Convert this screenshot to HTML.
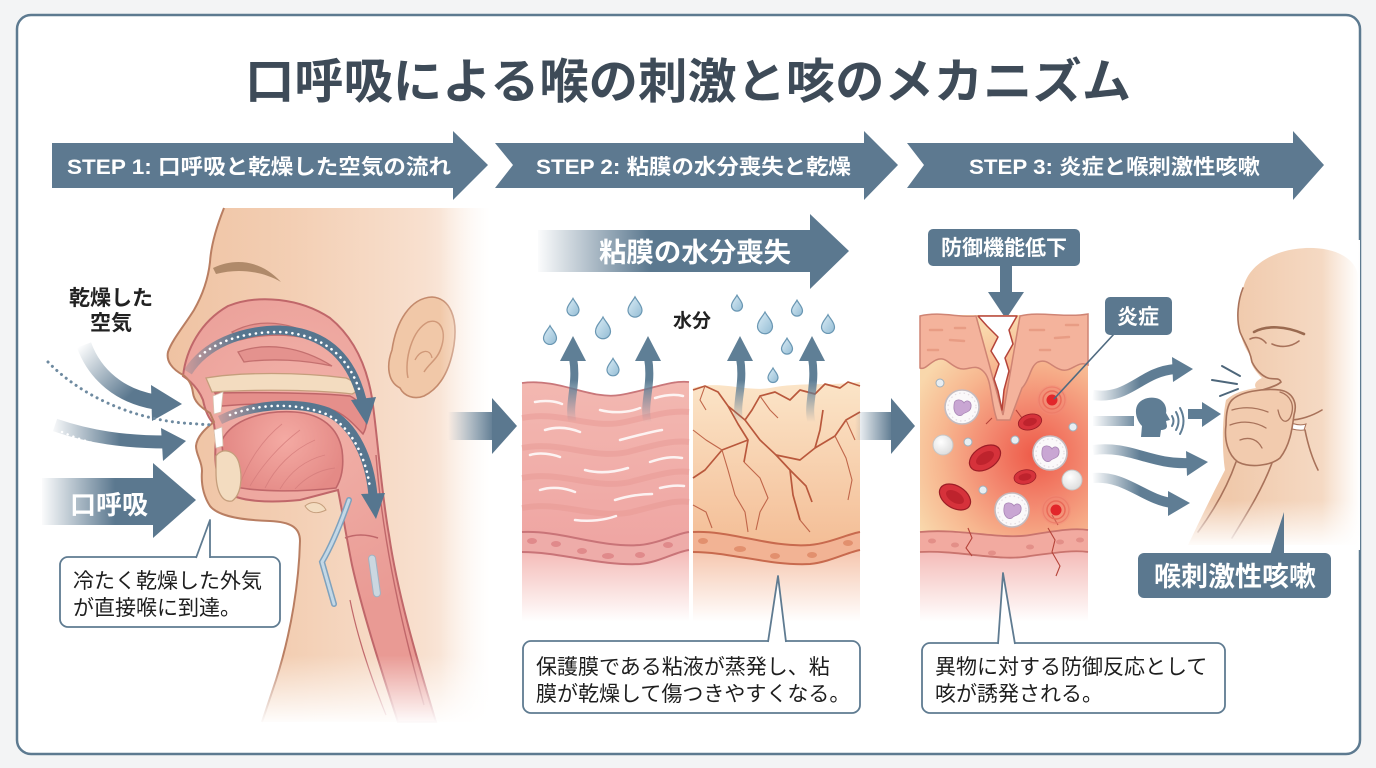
<!DOCTYPE html>
<html><head><meta charset="utf-8">
<style>
html,body{margin:0;padding:0;background:#f3f4f5;}
svg{display:block;}
text{font-family:"Liberation Sans","Noto Sans CJK JP",sans-serif;}
</style></head><body>
<svg width="1376" height="768" viewBox="0 0 1376 768" xmlns="http://www.w3.org/2000/svg">
<defs>
  <linearGradient id="skinG" gradientUnits="userSpaceOnUse" x1="165" y1="0" x2="490" y2="0">
    <stop offset="0" stop-color="#efc2a2"/><stop offset="0.4" stop-color="#f3cfb4"/>
    <stop offset="0.8" stop-color="#f8e0cf"/><stop offset="1" stop-color="#fdf5ef"/>
  </linearGradient>
  <radialGradient id="airG" gradientUnits="userSpaceOnUse" cx="300" cy="420" r="200">
    <stop offset="0" stop-color="#f2b3aa"/><stop offset="1" stop-color="#e99a94"/>
  </radialGradient>
  <radialGradient id="tongueG" gradientUnits="userSpaceOnUse" cx="285" cy="440" r="60">
    <stop offset="0" stop-color="#f4aaa3"/><stop offset="1" stop-color="#e48a86"/>
  </radialGradient>
  <linearGradient id="fadeR" x1="0" y1="0" x2="1" y2="0">
    <stop offset="0" stop-color="#fff" stop-opacity="0"/><stop offset="1" stop-color="#fff" stop-opacity="1"/>
  </linearGradient>
  <linearGradient id="fadeB" x1="0" y1="0" x2="0" y2="1">
    <stop offset="0" stop-color="#fff" stop-opacity="0"/><stop offset="1" stop-color="#fff" stop-opacity="1"/>
  </linearGradient>
  <linearGradient id="gKo" gradientUnits="userSpaceOnUse" x1="40" y1="0" x2="115" y2="0">
    <stop offset="0" stop-color="#5b788f" stop-opacity="0"/><stop offset="1" stop-color="#5b788f"/>
  </linearGradient>
  <linearGradient id="gC1" gradientUnits="userSpaceOnUse" x1="80" y1="345" x2="130" y2="395">
    <stop offset="0" stop-color="#5b788f" stop-opacity="0"/><stop offset="1" stop-color="#5b788f"/>
  </linearGradient>
  <linearGradient id="gC2" gradientUnits="userSpaceOnUse" x1="50" y1="0" x2="120" y2="0">
    <stop offset="0" stop-color="#5b788f" stop-opacity="0"/><stop offset="1" stop-color="#5b788f"/>
  </linearGradient>
  <linearGradient id="gB1" gradientUnits="userSpaceOnUse" x1="448" y1="0" x2="495" y2="0">
    <stop offset="0" stop-color="#5b788f" stop-opacity="0"/><stop offset="1" stop-color="#5b788f"/>
  </linearGradient>
  <linearGradient id="gB2" gradientUnits="userSpaceOnUse" x1="855" y1="0" x2="893" y2="0">
    <stop offset="0" stop-color="#5b788f" stop-opacity="0"/><stop offset="1" stop-color="#5b788f"/>
  </linearGradient>
  <linearGradient id="gBan" gradientUnits="userSpaceOnUse" x1="535" y1="0" x2="650" y2="0">
    <stop offset="0" stop-color="#5b788f" stop-opacity="0"/><stop offset="1" stop-color="#5b788f"/>
  </linearGradient>
  <linearGradient id="gWave" gradientUnits="userSpaceOnUse" x1="1092" y1="0" x2="1140" y2="0">
    <stop offset="0" stop-color="#5f7d94" stop-opacity="0"/><stop offset="1" stop-color="#5f7d94"/>
  </linearGradient>
  <linearGradient id="gUp" gradientUnits="userSpaceOnUse" x1="0" y1="422" x2="0" y2="380">
    <stop offset="0" stop-color="#5f7f96" stop-opacity="0"/><stop offset="1" stop-color="#5f7f96"/>
  </linearGradient>
  <linearGradient id="gAirA" gradientUnits="userSpaceOnUse" x1="185" y1="0" x2="240" y2="0">
    <stop offset="0" stop-color="#56768f" stop-opacity="0.2"/><stop offset="1" stop-color="#56768f"/>
  </linearGradient>
  <linearGradient id="gAirB" gradientUnits="userSpaceOnUse" x1="215" y1="0" x2="265" y2="0">
    <stop offset="0" stop-color="#56768f" stop-opacity="0.2"/><stop offset="1" stop-color="#56768f"/>
  </linearGradient>
  <linearGradient id="pinkG" gradientUnits="userSpaceOnUse" x1="0" y1="383" x2="0" y2="540">
    <stop offset="0" stop-color="#f3b8b1"/><stop offset="1" stop-color="#efa6a3"/>
  </linearGradient>
  <linearGradient id="peachG" gradientUnits="userSpaceOnUse" x1="0" y1="385" x2="0" y2="540">
    <stop offset="0" stop-color="#fbe4c7"/><stop offset="1" stop-color="#f4bf98"/>
  </linearGradient>
  <linearGradient id="lowPink" gradientUnits="userSpaceOnUse" x1="0" y1="545" x2="0" y2="622">
    <stop offset="0" stop-color="#f3b5b1"/><stop offset="1" stop-color="#ffffff"/>
  </linearGradient>
  <linearGradient id="lowPeach" gradientUnits="userSpaceOnUse" x1="0" y1="545" x2="0" y2="622">
    <stop offset="0" stop-color="#f5c2a8"/><stop offset="1" stop-color="#ffffff"/>
  </linearGradient>
  <radialGradient id="inflG" gradientUnits="userSpaceOnUse" cx="1035" cy="455" r="135">
    <stop offset="0" stop-color="#ee5a48"/><stop offset="0.35" stop-color="#f3866e"/>
    <stop offset="0.7" stop-color="#f7b68f"/><stop offset="1" stop-color="#f9d7ab"/>
  </radialGradient>
  <linearGradient id="dropG" x1="0" y1="0" x2="1" y2="1">
    <stop offset="0" stop-color="#dcedf6"/><stop offset="1" stop-color="#93bcd4"/>
  </linearGradient>
  <radialGradient id="sphG" cx="0.4" cy="0.35" r="0.7">
    <stop offset="0" stop-color="#ffffff"/><stop offset="1" stop-color="#dcdcdc"/>
  </radialGradient>
  <linearGradient id="personG" gradientUnits="userSpaceOnUse" x1="1230" y1="0" x2="1360" y2="0">
    <stop offset="0" stop-color="#f0c9ab"/><stop offset="1" stop-color="#f7e0cd"/>
  </linearGradient>
  <path id="drop" d="M0,-1.6 C0.3,-1 1,-0.4 1,0.3 A1,1 0 0 1 -1,0.3 C-1,-0.4 -0.3,-1 0,-1.6Z"/>
  <g id="wbc">
    <circle r="17" fill="#fbf9fa" stroke="#c4bcc1" stroke-width="1.6"/>
    <circle r="14" fill="none" stroke="#e4dde2" stroke-width="1.2" stroke-dasharray="1.5 3"/>
    <path d="M-8,-2 C-8,-9 0,-8 2,-4 C4,-8 10,-6 9,0 C8,6 2,5 0,8 C-4,10 -9,6 -8,-2 Z" fill="#c9a6d3" stroke="#a985b5" stroke-width="0.8"/>
  </g>
  <g id="rbc">
    <ellipse rx="17" ry="11" fill="#d6323b" stroke="#9c1d26" stroke-width="1.2"/>
    <ellipse rx="10" ry="5.5" fill="#b51f29" opacity="0.75"/>
  </g>
  <g id="infl">
    <circle r="15" fill="#f28a78" opacity="0.35"/>
    <circle r="13" fill="none" stroke="#ec7a68" stroke-width="1.2" opacity="0.8"/>
    <circle r="9" fill="none" stroke="#ea6a58" stroke-width="1.5"/>
    <circle r="5.5" fill="#e2262a"/>
  </g>
</defs>

<rect width="1376" height="768" fill="#f3f4f5"/>
<rect x="17" y="15" width="1343" height="739" rx="14" fill="#ffffff" stroke="#5d7a90" stroke-width="2.5"/>

<!-- Title -->
<text x="688" y="98" font-size="48" font-weight="700" fill="#3e4b58" text-anchor="middle" textLength="886" lengthAdjust="spacingAndGlyphs">口呼吸による喉の刺激と咳のメカニズム</text>

<!-- Step banners -->
<path d="M52,143 L453,143 L453,131 L488,165 L453,200 L453,188 L52,188 Z" fill="#5d7990"/>
<path d="M495,143 L864,143 L864,131 L898,165 L864,200 L864,188 L495,188 L513,165 Z" fill="#5d7990"/>
<path d="M907,143 L1293,143 L1293,131 L1324,165 L1293,200 L1293,188 L907,188 L924,165 Z" fill="#5d7990"/>
<text x="67" y="174" font-size="21" font-weight="700" fill="#fff" textLength="384" lengthAdjust="spacingAndGlyphs">STEP 1: 口呼吸と乾燥した空気の流れ</text>
<text x="536" y="174" font-size="21" font-weight="700" fill="#fff" textLength="315" lengthAdjust="spacingAndGlyphs">STEP 2: 粘膜の水分喪失と乾燥</text>
<text x="969" y="174" font-size="21" font-weight="700" fill="#fff" textLength="291" lengthAdjust="spacingAndGlyphs">STEP 3: 炎症と喉刺激性咳嗽</text>

<!-- ===== LEFT: head cross-section ===== -->
<path d="M224,208 C216,228 211,246 210,262 C208,280 202,296 194,310 C184,326 172,340 168,352 C166,361 172,369 183,375 C189,379 192,385 193,393 C194,401 200,407 210,413 L214,422 C206,428 197,436 196,446 C196,455 202,461 202,471 C201,483 203,495 210,506 C218,516 240,520 270,521 C290,522 300,527 300,541 C299,580 292,630 276,680 L262,722 L490,722 L490,208 Z" fill="url(#skinG)"/>
<!-- ear -->
<path d="M400,388 C388,382 386,366 392,350 C396,322 410,298 432,297 C450,298 458,318 454,345 C450,370 440,388 424,396 C414,400 404,396 400,388 Z" fill="#f1c8a8" stroke="#c48a6c" stroke-width="1.6"/>
<path d="M408,378 C404,360 412,330 428,322 C440,318 446,330 442,345 C438,360 430,362 424,372" fill="none" stroke="#d09878" stroke-width="1.5"/>
<path d="M415,360 C420,350 430,348 432,358" fill="none" stroke="#d09878" stroke-width="1.3"/>
<!-- eyebrow -->
<path d="M213,268 C236,257 262,261 281,282 C262,271 238,268 216,274 Z" fill="#b08a6a"/>

<!-- airway -->
<path d="M183,376 C186,350 200,322 228,306 C258,294 300,298 330,318 C352,336 366,362 372,398 C378,440 381,490 389,535 C397,590 414,650 436,722 L398,722 C378,660 362,610 352,565 C346,535 342,510 338,490 L300,500 C270,503 240,502 226,492 C216,480 214,460 216,440 L214,424 C208,418 205,410 203,400 C199,390 192,382 183,376 Z" fill="url(#airG)" stroke="#c0676a" stroke-width="2"/>
<!-- conchae -->
<path d="M232,332 C258,318 292,320 322,342 C300,335 270,332 240,340 Z" fill="#e4928e" stroke="#c4706f" stroke-width="1.3"/>
<path d="M238,352 C266,342 300,346 332,366 C304,360 272,358 244,362 Z" fill="#e4928e" stroke="#c4706f" stroke-width="1.3"/>
<!-- hard palate -->
<path d="M206,378 C240,372 300,372 346,378 C357,382 360,391 352,394 C320,390 260,389 212,392 Z" fill="#f3dcc0" stroke="#c59e7c" stroke-width="1.3"/>
<!-- soft palate -->
<path d="M215,393 C260,392 320,393 350,396 C366,404 370,422 363,434 C355,426 346,414 330,409 C300,403 260,403 222,406 Z" fill="#e58f8b" stroke="#bf6669" stroke-width="1.5"/>
<!-- tongue -->
<path d="M222,440 C232,420 262,410 295,412 C322,414 338,428 342,450 C344,465 342,478 336,488 C300,492 260,492 236,487 C226,472 222,458 222,440 Z" fill="url(#tongueG)" stroke="#c0676a" stroke-width="1.6"/>
<g stroke="#d57d7c" stroke-width="0.9" fill="none" opacity="0.8">
  <path d="M250,486 C262,465 280,445 300,430"/><path d="M265,488 C275,468 292,450 315,440"/>
  <path d="M280,489 C290,472 305,460 325,455"/><path d="M295,489 C305,478 318,470 335,468"/>
  <path d="M240,484 C248,462 262,440 282,424"/>
</g>
<!-- teeth -->
<path d="M213,396 L223,392 L221,412 L214,414 Z" fill="#fff" stroke="#d8c4b0" stroke-width="0.8"/>
<path d="M214,430 L222,427 L223,446 L216,448 Z" fill="#fff" stroke="#d8c4b0" stroke-width="0.8"/>
<!-- jaw bone -->
<path d="M216,456 C222,447 235,450 239,463 C243,478 241,495 232,501 C222,503 216,491 216,472 Z" fill="#f3dcc0" stroke="#c59e7c" stroke-width="1.3"/>
<!-- larynx -->
<path d="M305,506 C312,500 322,502 326,510 C318,514 310,514 305,506 Z" fill="#f3dcc0" stroke="#c59e7c" stroke-width="1"/>
<path d="M349,500 C342,520 332,545 322,562 L334,604" fill="none" stroke="#7fa2bd" stroke-width="6" stroke-linecap="round"/>
<path d="M349,500 C342,520 332,545 322,562 L334,604" fill="none" stroke="#c4d8e6" stroke-width="3" stroke-linecap="round"/>
<path d="M345,538 C355,534 366,534 378,538" fill="none" stroke="#c0676a" stroke-width="1.6"/>
<rect x="371" y="555" width="7" height="42" rx="3.5" fill="#cbd7e0" stroke="#9fb3c3" stroke-width="1" transform="rotate(-8 374 576)"/>
<path d="M376,455 C381,520 394,600 424,705" fill="none" stroke="#c0676a" stroke-width="1.4"/>
<path d="M350,600 C358,640 372,680 386,715" fill="none" stroke="#c0676a" stroke-width="1.2"/>
<!-- airflow arrows inside -->
<path d="M188,372 C205,345 240,330 280,330 C320,332 350,352 362,400" fill="none" stroke="url(#gAirA)" stroke-width="9"/>
<path d="M200,356 C222,338 250,332 280,332 C320,334 348,354 360,392" fill="none" stroke="#fff" stroke-width="2.6" stroke-linecap="round" stroke-dasharray="0.1 6"/>
<path d="M351,400 L376,397 L367,425 Z" fill="#56768f"/>
<path d="M220,420 C250,405 295,400 328,412 C355,425 370,460 373,496" fill="none" stroke="url(#gAirB)" stroke-width="9"/>
<path d="M230,415 C258,404 295,402 326,414 C352,427 366,458 370,488" fill="none" stroke="#fff" stroke-width="2.6" stroke-linecap="round" stroke-dasharray="0.1 6"/>
<path d="M361,494 L385,493 L376,519 Z" fill="#56768f"/>
<!-- face profile outline -->
<path d="M224,208 C216,228 211,246 210,262 C208,280 202,296 194,310 C184,326 172,340 168,352 C166,361 172,369 183,375 C189,379 192,385 193,393 C194,401 200,407 210,413 L214,422 C206,428 197,436 196,446 C196,455 202,461 202,471 C201,483 203,495 210,506 C218,516 240,520 270,521 C290,522 300,527 300,541 C299,580 292,630 276,680 L262,722" fill="none" stroke="#b97e62" stroke-width="2"/>
<!-- fades -->
<rect x="440" y="200" width="50" height="525" fill="url(#fadeR)"/>
<rect x="150" y="655" width="345" height="70" fill="url(#fadeB)"/>
<rect x="150" y="200" width="345" height="5" fill="#fff"/>

<!-- outside air -->
<text x="111" y="305" font-size="21" font-weight="700" fill="#222" text-anchor="middle">乾燥した</text>
<text x="111" y="330" font-size="21" font-weight="700" fill="#222" text-anchor="middle">空気</text>
<path d="M84,345 C95,375 120,396 155,402" fill="none" stroke="url(#gC1)" stroke-width="15"/>
<path d="M151,385 L182,404 L152,421 Z" fill="#5b788f"/>
<path d="M48,362 C80,395 130,418 183,423 L212,425" fill="none" stroke="#6e8aa0" stroke-width="3" stroke-linecap="round" stroke-dasharray="0.1 6"/>
<path d="M55,425 C90,437 125,442 166,442" fill="none" stroke="url(#gC2)" stroke-width="13"/>
<path d="M62,432 C80,440 100,446 118,448" fill="none" stroke="#fff" stroke-width="2.4" stroke-linecap="round" stroke-dasharray="0.1 6"/>
<path d="M161,428 L186,441 L163,461 Z" fill="#5b788f"/>
<!-- 口呼吸 arrow -->
<rect x="42" y="478" width="113" height="47" fill="url(#gKo)"/>
<path d="M153,463 L196,500 L153,538 Z" fill="#5b788f"/>
<text x="70" y="514" font-size="26" font-weight="700" fill="#fff">口呼吸</text>

<!-- speech box 1 -->
<rect x="60" y="557" width="220" height="70" rx="8" fill="#fff" stroke="#5f7b91" stroke-width="1.8"/>
<path d="M196,558 L210,520 L210,558" fill="#fff" stroke="#5f7b91" stroke-width="1.8" stroke-linejoin="round"/>
<line x1="198" y1="558" x2="208.5" y2="558" stroke="#fff" stroke-width="3"/>
<text x="73" y="588" font-size="21" fill="#1e1e1e">冷たく乾燥した外気</text>
<text x="73" y="615" font-size="21" fill="#1e1e1e">が直接喉に到達。</text>

<!-- between arrow 1 -->
<rect x="448" y="412" width="46" height="28" fill="url(#gB1)"/>
<path d="M492,398 L517,426 L492,454 Z" fill="#5b788f"/>

<!-- ===== MIDDLE ===== -->
<path d="M538,230 L810,230 L810,214 L849,251 L810,289 L810,272 L538,272 Z" fill="url(#gBan)"/>
<text x="695" y="262" font-size="27" font-weight="700" fill="#fff" text-anchor="middle" textLength="192" lengthAdjust="spacingAndGlyphs">粘膜の水分喪失</text>

<!-- left pink tissue -->
<path d="M522,383 C560,378 590,400 620,395 C650,390 670,380 689,382 L689,545 L522,545 Z" fill="url(#pinkG)"/>
<g fill="none" stroke="#e79792" stroke-width="6" opacity="0.45">
  <path d="M522,418 C560,410 590,430 625,422 C655,415 672,410 689,412"/>
  <path d="M522,448 C560,440 592,460 628,452 C658,444 674,440 689,442"/>
  <path d="M522,478 C560,470 594,490 630,482 C660,474 676,470 689,472"/>
  <path d="M522,508 C560,500 596,520 632,512 C662,504 676,500 689,502"/>
</g>
<g fill="none" stroke="#fff" stroke-width="2.5" stroke-linecap="round" opacity="0.85">
  <path d="M535,402 C545,400 555,401 562,404"/><path d="M600,410 C615,414 630,412 640,408"/>
  <path d="M655,398 C665,395 675,394 683,396"/><path d="M545,430 C558,426 570,428 580,432"/>
  <path d="M620,440 C635,436 650,432 662,430"/><path d="M530,455 C540,452 552,454 560,457"/>
  <path d="M585,470 C600,474 615,472 628,468"/><path d="M650,462 C662,458 672,456 682,458"/>
  <path d="M540,490 C552,486 565,488 575,492"/><path d="M615,500 C628,496 640,494 652,494"/>
  <path d="M660,488 C668,486 676,485 684,486"/><path d="M575,520 C590,522 605,520 616,516"/>
</g>
<path d="M522,545 L689,545 L689,622 L522,622 Z" fill="url(#lowPink)"/>
<path d="M522,532 C560,530 600,548 640,545 C660,543 675,534 689,532 L689,550 C675,552 660,562 640,564 C600,566 560,552 522,552 Z" fill="#eeaca9"/>
<path d="M522,532 C560,530 600,548 640,545 C660,543 675,534 689,532" fill="none" stroke="#c97478" stroke-width="2"/>
<path d="M522,552 C560,552 600,566 640,564 C660,562 675,552 689,550" fill="none" stroke="#c97478" stroke-width="2"/>
<g fill="#e08a8b"><ellipse cx="532" cy="541" rx="5" ry="3"/><ellipse cx="556" cy="544" rx="5" ry="3"/><ellipse cx="582" cy="551" rx="5" ry="3"/><ellipse cx="608" cy="556" rx="6" ry="3"/><ellipse cx="640" cy="555" rx="5" ry="3"/><ellipse cx="668" cy="545" rx="5" ry="3"/></g>
<path d="M522,383 C560,378 590,400 620,395 C650,390 670,380 689,382" fill="none" stroke="#c9777a" stroke-width="1.8"/>

<!-- right peach tissue -->
<path d="M693,388 C720,380 745,392 770,388 C800,382 830,386 860,382 L860,545 L693,545 Z" fill="url(#peachG)"/>
<path d="M693,545 L860,545 L860,622 L693,622 Z" fill="url(#lowPeach)"/>
<path d="M693,532 C730,530 770,548 810,545 C830,543 848,534 860,532 L860,550 C848,552 830,562 810,564 C770,566 730,552 693,552 Z" fill="#f2b394"/>
<path d="M693,532 C730,530 770,548 810,545 C830,543 848,534 860,532" fill="none" stroke="#c86a4e" stroke-width="2"/>
<path d="M693,552 C730,552 770,566 810,564 C830,562 848,552 860,550" fill="none" stroke="#c86a4e" stroke-width="2"/>
<g fill="#e2906e"><ellipse cx="703" cy="541" rx="5" ry="3"/><ellipse cx="740" cy="549" rx="6" ry="3"/><ellipse cx="775" cy="556" rx="5" ry="3"/><ellipse cx="812" cy="555" rx="5" ry="3"/><ellipse cx="848" cy="543" rx="5" ry="3"/></g>
<g fill="none" stroke="#b9583c" stroke-width="1.7" stroke-linejoin="round">
  <path d="M693,390 L705,386 L718,392 L728,406 L745,420 L752,410 L760,396 L775,392 L790,400 L800,390 L815,394 L825,384 L840,388 L848,382 L860,386"/>
  <path d="M728,406 L738,424 L748,440 L744,462"/>
  <path d="M745,420 L760,440 L776,455 L790,470 L793,495 L800,520"/>
  <path d="M748,440 L722,450 L705,470 L693,478"/>
  <path d="M776,455 L800,460 L815,448 L835,436 L846,420 L860,412"/>
  <path d="M790,470 L806,486 L812,502"/>
  <path d="M815,448 L820,430 L823,410"/>
</g>
<g fill="none" stroke="#c0664a" stroke-width="1.1" stroke-linejoin="round">
  <path d="M744,462 L760,478 L768,498 L760,512 L756,530"/>
  <path d="M722,450 L728,470 L735,495 L745,512 L748,532"/>
  <path d="M693,430 L706,440 L722,450"/>
  <path d="M835,436 L846,458 L852,480 L848,500"/>
  <path d="M693,505 L706,512 L712,528"/>
  <path d="M800,520 L810,532"/>
  <path d="M760,396 L770,410 L778,418"/>
  <path d="M705,386 L700,400 L706,410"/>
  <path d="M846,420 L855,440"/>
</g>

<!-- up arrows -->
<g fill="none" stroke="url(#gUp)" stroke-width="8">
  <path d="M573,424 C567,405 578,385 573,358"/>
  <path d="M648,424 C642,405 653,385 648,358"/>
  <path d="M740,424 C734,405 745,385 740,358"/>
  <path d="M812,424 C806,405 817,385 812,358"/>
</g>
<g fill="#5f7f96">
  <path d="M560,361 L586,361 L573,336 Z"/><path d="M635,361 L661,361 L648,336 Z"/>
  <path d="M727,361 L753,361 L740,336 Z"/><path d="M799,361 L825,361 L812,336 Z"/>
</g>
<!-- water drops -->
<g fill="url(#dropG)" stroke="#6a97b3">
  <use href="#drop" transform="translate(573,308) scale(6)" stroke-width="0.2"/>
  <use href="#drop" transform="translate(550,336) scale(6.5)" stroke-width="0.185"/>
  <use href="#drop" transform="translate(603,329) scale(7.5)" stroke-width="0.16"/>
  <use href="#drop" transform="translate(635,308) scale(7)" stroke-width="0.17"/>
  <use href="#drop" transform="translate(613,368) scale(6)" stroke-width="0.2"/>
  <use href="#drop" transform="translate(737,304) scale(5.5)" stroke-width="0.22"/>
  <use href="#drop" transform="translate(765,324) scale(7.5)" stroke-width="0.16"/>
  <use href="#drop" transform="translate(797,309) scale(5.5)" stroke-width="0.22"/>
  <use href="#drop" transform="translate(787,347) scale(5.5)" stroke-width="0.22"/>
  <use href="#drop" transform="translate(828,325) scale(6.5)" stroke-width="0.185"/>
  <use href="#drop" transform="translate(773,376) scale(5)" stroke-width="0.24"/>
</g>
<text x="692" y="327" font-size="19" font-weight="700" fill="#222" text-anchor="middle">水分</text>

<!-- speech box 2 -->
<rect x="523" y="641" width="337" height="72" rx="8" fill="#fff" stroke="#5f7b91" stroke-width="1.8"/>
<path d="M768,642 L778,576 L786,642" fill="#fff" stroke="#5f7b91" stroke-width="1.8" stroke-linejoin="round"/>
<line x1="770" y1="642" x2="784.5" y2="642" stroke="#fff" stroke-width="3"/>
<text x="536" y="674" font-size="21" fill="#1e1e1e">保護膜である粘液が蒸発し、粘</text>
<text x="536" y="701" font-size="21" fill="#1e1e1e">膜が乾燥して傷つきやすくなる。</text>

<!-- between arrow 2 -->
<rect x="855" y="412" width="38" height="28" fill="url(#gB2)"/>
<path d="M891,398 L915,426 L891,454 Z" fill="#5b788f"/>

<!-- ===== RIGHT ===== -->
<rect x="928" y="229" width="152" height="37" rx="5" fill="#5b788f"/>
<text x="1004" y="255" font-size="21" font-weight="700" fill="#fff" text-anchor="middle">防御機能低下</text>
<rect x="1000" y="265" width="12" height="30" fill="#5b788f"/>
<path d="M988,292 L1024,292 L1006,319 Z" fill="#5b788f"/>

<!-- inflamed tissue -->
<rect x="920" y="315" width="168" height="232" fill="url(#inflG)"/>
<path d="M920,545 L1088,545 L1088,622 L920,622 Z" fill="url(#lowPink)"/>
<path d="M920,316 C940,311 960,318 976,316 L1003,415 L1020,316 C1040,311 1065,318 1088,314 L1088,365 C1078,360 1072,372 1062,370 C1052,368 1048,358 1038,362 C1030,366 1030,380 1022,388 L1010,420 L997,420 C990,400 992,380 984,372 C975,362 968,372 958,368 C948,364 946,356 936,360 C928,364 925,370 920,368 Z" fill="#f4b39c" stroke="#cf8474" stroke-width="1.5"/>
<g stroke="#e6977f" stroke-width="2.5" stroke-linecap="round" opacity="0.8">
  <path d="M930,330 l12,0"/><path d="M950,340 l14,1"/><path d="M928,350 l10,0"/><path d="M1030,330 l14,0"/>
  <path d="M1055,338 l14,-1"/><path d="M1040,350 l10,0"/><path d="M1066,325 l12,0"/><path d="M955,328 l10,0"/>
</g>
<path d="M978,316 L1017,316 L1009,330 L1013,344 L1005,358 L1009,371 L1004,390 L1002,410 L998,391 L994,379 L999,364 L991,351 L998,337 L987,326 Z" fill="#fff" stroke="#b5443a" stroke-width="1.5" stroke-linejoin="round"/>
<path d="M920,532 C960,528 1000,540 1030,535 C1060,530 1075,528 1088,530 L1088,552 C1075,550 1060,552 1030,556 C1000,562 960,550 920,552 Z" fill="#f2aaa0"/>
<path d="M920,532 C960,528 1000,540 1030,535 C1060,530 1075,528 1088,530" fill="none" stroke="#c9746e" stroke-width="1.8"/>
<path d="M920,552 C960,550 1000,562 1030,556 C1060,552 1075,550 1088,552" fill="none" stroke="#c9746e" stroke-width="1.8"/>
<g fill="#e38f88"><ellipse cx="932" cy="541" rx="4" ry="2.5"/><ellipse cx="955" cy="545" rx="4" ry="2.5"/><ellipse cx="992" cy="553" rx="4" ry="2.5"/><ellipse cx="1030" cy="547" rx="4" ry="2.5"/><ellipse cx="1060" cy="542" rx="4" ry="2.5"/><ellipse cx="1080" cy="540" rx="4" ry="2.5"/></g>
<g fill="none" stroke="#b5443a" stroke-width="1.1">
  <path d="M968,528 L972,538 L966,548 L972,556"/><path d="M1048,528 L1055,540 L1052,552 L1060,566 L1056,576"/>
  <path d="M1016,410 L1022,418 L1030,416"/><path d="M992,418 L986,424"/><path d="M1052,515 L1058,525"/>
</g>
<!-- cells -->
<use href="#wbc" transform="translate(962,407)"/>
<use href="#wbc" transform="translate(1050,453)"/>
<use href="#wbc" transform="translate(1012,510)"/>
<circle cx="943" cy="445" r="10" fill="url(#sphG)" stroke="#c6c6c6" stroke-width="1"/>
<circle cx="1072" cy="480" r="10" fill="url(#sphG)" stroke="#c6c6c6" stroke-width="1"/>
<use href="#rbc" transform="translate(985,458) rotate(-32)"/>
<use href="#rbc" transform="translate(955,497) rotate(32)"/>
<use href="#rbc" transform="translate(1030,422) rotate(-15) scale(0.7)"/>
<use href="#rbc" transform="translate(1025,477) rotate(-10) scale(0.65)"/>
<g fill="#e8eef2" stroke="#9fb0bc" stroke-width="1"><circle cx="940" cy="383" r="4"/><circle cx="968" cy="442" r="4"/><circle cx="1015" cy="440" r="4"/><circle cx="1073" cy="427" r="4"/><circle cx="983" cy="490" r="4"/></g>
<use href="#infl" transform="translate(1052,400)"/>
<use href="#infl" transform="translate(1056,510)"/>

<!-- 炎症 label -->
<line x1="1114" y1="334" x2="1054" y2="399" stroke="#4f6a80" stroke-width="1.6"/>
<rect x="1105" y="297" width="67" height="38" rx="5" fill="#5b788f"/>
<text x="1138" y="324" font-size="21" font-weight="700" fill="#fff" text-anchor="middle">炎症</text>

<!-- person -->
<path d="M1243,290 C1246,268 1270,250 1305,248 C1335,247 1355,258 1358,275 L1358,545 L1188,545 C1200,520 1212,495 1225,470 C1222,450 1222,420 1226,400 C1235,392 1245,390 1256,388 C1252,382 1262,378 1262,378 C1256,372 1250,365 1250,355 C1242,345 1237,325 1238,310 C1238,300 1240,295 1243,290 Z" fill="url(#personG)"/>
<g fill="none" stroke="#a8725a" stroke-width="1.6" stroke-linecap="round">
  <path d="M1243,288 C1238,300 1236,318 1240,332 C1244,342 1250,350 1252,362 C1256,370 1262,376 1268,378 C1274,380 1279,377 1281,382 C1277,386 1268,388 1262,390"/>
  <path d="M1250,339 C1256,336 1262,338 1266,343"/>
  <path d="M1272,344 C1281,348 1291,347 1299,341"/>
  <path d="M1290,420 C1300,420 1312,416 1322,410"/>
  <path d="M1305,430 C1308,445 1312,458 1318,470"/>
  <path d="M1236,462 C1228,485 1214,510 1198,532"/>
  <path d="M1272,463 C1262,490 1246,515 1232,538"/>
</g>
<path d="M1254,332 C1266,325 1286,326 1304,334" fill="none" stroke="#9a6a50" stroke-width="2.6" stroke-linecap="round"/>
<path d="M1284,420 C1292,424 1300,426 1306,424 L1304,430 C1296,431 1288,428 1282,425 Z" fill="#fff" stroke="#a8725a" stroke-width="1"/>
<path d="M1232,400 C1240,392 1262,388 1280,390 C1292,392 1298,402 1294,415 C1292,430 1290,445 1280,458 C1270,466 1250,468 1238,462 C1228,455 1224,440 1226,425 C1226,412 1228,404 1232,400 Z" fill="#f2cbae" stroke="#a8725a" stroke-width="1.6"/>
<g fill="none" stroke="#a8725a" stroke-width="1.3" stroke-linecap="round">
  <path d="M1232,410 C1245,406 1258,408 1268,412"/><path d="M1230,425 C1243,420 1256,422 1266,428"/>
  <path d="M1240,440 C1250,436 1258,440 1262,448"/>
  <path d="M1280,392 C1290,395 1296,405 1290,418 C1285,425 1280,420 1278,410"/>
</g>
<rect x="1322" y="240" width="38" height="310" fill="url(#fadeR)"/>
<rect x="1180" y="500" width="180" height="48" fill="url(#fadeB)"/>
<path d="M1240,245 C1270,240 1320,238 1360,244 L1360,252 C1330,246 1290,246 1250,256 Z" fill="#fff" opacity="0.6"/>

<!-- cough waves -->
<g fill="none" stroke="url(#gWave)" stroke-width="10">
  <path d="M1093,395 C1130,400 1140,372 1175,369"/>
  <path d="M1093,421 L1134,421"/>
  <path d="M1093,450 C1130,445 1150,465 1190,463"/>
  <path d="M1093,478 C1125,475 1145,500 1172,503"/>
</g>
<g fill="#5f7d94">
  <path d="M1172,357 L1193,369 L1173,382 Z"/>
  <path d="M1186,451 L1208,462 L1187,476 Z"/>
  <path d="M1168,491 L1190,503 L1168,516 Z"/>
  <rect x="1188" y="409" width="16" height="10"/>
  <path d="M1202,402 L1221,414 L1202,427 Z"/>
  <path d="M1141,437 L1142,426 C1136,420 1134,410 1138,404 C1142,398 1152,396 1159,399 C1165,402 1167,408 1166,413 L1170,420 L1166,421 L1167,426 C1167,429 1164,430 1161,430 L1160,437 Z"/>
</g>
<g fill="none" stroke="#5f7d94" stroke-width="2" stroke-linecap="round">
  <path d="M1172,416 Q1175,421 1172,426"/><path d="M1176,412 Q1181,421 1176,430"/><path d="M1180,408 Q1187,421 1180,434"/>
</g>
<g stroke="#4d667a" stroke-width="2" stroke-linecap="round">
  <path d="M1222,366 L1240,376"/><path d="M1212,380 L1237,384"/><path d="M1220,396 L1238,389"/>
</g>

<!-- 喉刺激性咳嗽 label -->
<path d="M1270,555 L1284,512 L1284,555 Z" fill="#5b788f"/>
<rect x="1138" y="553" width="193" height="45" rx="6" fill="#5b788f"/>
<text x="1235" y="586" font-size="27" font-weight="700" fill="#fff" text-anchor="middle">喉刺激性咳嗽</text>

<!-- speech box 3 -->
<rect x="922" y="643" width="303" height="70" rx="8" fill="#fff" stroke="#5f7b91" stroke-width="1.8"/>
<path d="M998,644 L1003,573 L1015,644" fill="#fff" stroke="#5f7b91" stroke-width="1.8" stroke-linejoin="round"/>
<line x1="1000" y1="644" x2="1013" y2="644" stroke="#fff" stroke-width="3"/>
<text x="935" y="674" font-size="21" fill="#1e1e1e">異物に対する防御反応として</text>
<text x="935" y="701" font-size="21" fill="#1e1e1e">咳が誘発される。</text>
</svg>
</body></html>
